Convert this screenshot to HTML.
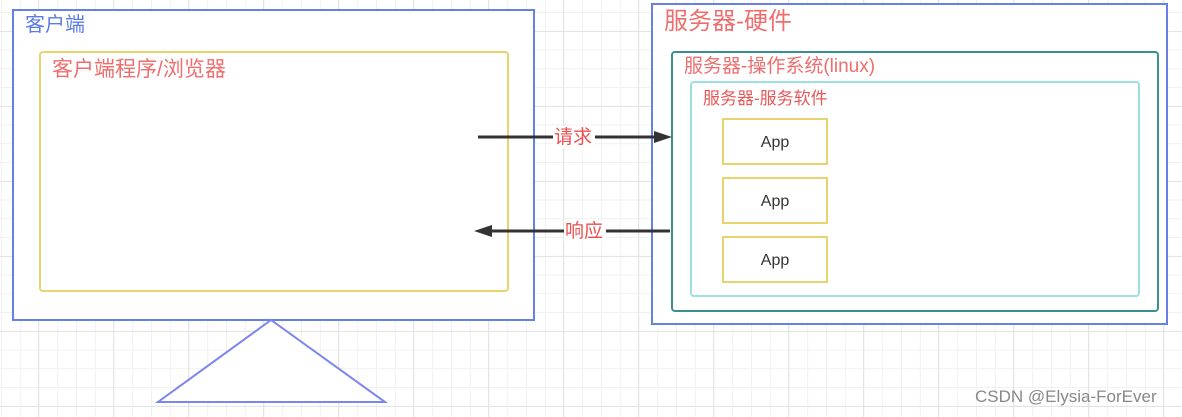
<!DOCTYPE html>
<html><head><meta charset="utf-8"><style>
body{margin:0;width:1182px;height:417px;overflow:hidden;position:relative;font-family:"Liberation Sans","Noto Sans CJK SC",sans-serif;
background-color:#fff;
background-image:linear-gradient(#e4e4e4 1px,transparent 1px),linear-gradient(90deg,#e4e4e4 1px,transparent 1px),linear-gradient(#f1f1f1 1px,transparent 1px),linear-gradient(90deg,#f1f1f1 1px,transparent 1px);
background-size:75px 75px,75px 75px,18.75px 18.75px,18.75px 18.75px;
background-position:0 31px,38px 0,0 12px,1px 0;}
.b{position:absolute;box-sizing:border-box;background:#fff}
.t{position:absolute;white-space:nowrap;line-height:1}
.app{position:absolute;box-sizing:border-box;border:2px solid #e8d36e;background:#fff;width:106px;height:47px;left:722px;text-align:center;line-height:45px;font-size:16px;color:#333}
</style></head><body>
<div class="b" style="left:12px;top:9px;width:523px;height:312px;border:2px solid #6680e8"></div>
<div class="b" style="left:39px;top:51px;width:470px;height:241px;border:2px solid #e8d36e;border-radius:4px"></div>
<div class="t" style="left:25px;top:15px;font-size:20px;color:#5b7be6">客户端</div>
<div class="t" style="left:52px;top:59px;font-size:21px;color:#ee6e6e">客户端程序/浏览器</div>
<svg style="position:absolute;left:0;top:0" width="1182" height="417">
<polygon points="271,320 158,402 385,402" fill="#fff" stroke="#7a86ee" stroke-width="2"/>
</svg>
<div class="b" style="left:651px;top:3px;width:517px;height:322px;border:2px solid #6680e8"></div>
<div class="b" style="left:671px;top:51px;width:488px;height:261px;border:2px solid #3a8f8f;border-radius:4px"></div>
<div class="b" style="left:690px;top:81px;width:450px;height:216px;border:2px solid #9de0e0;border-radius:4px"></div>
<div class="t" style="left:664px;top:10px;font-size:24px;color:#ee6e6e">服务器-硬件</div>
<div class="t" style="left:684px;top:57px;font-size:19px;color:#ee6e6e">服务器-操作系统(linux)</div>
<div class="t" style="left:703px;top:90px;font-size:17px;color:#e85858">服务器-服务软件</div>
<div class="app" style="top:118px">App</div>
<div class="app" style="top:177px">App</div>
<div class="app" style="top:236px">App</div>
<svg style="position:absolute;left:0;top:0" width="1182" height="417">
<line x1="478" y1="137" x2="656" y2="137" stroke="#333" stroke-width="3"/>
<polygon points="672,137 654,131 654,143" fill="#333"/>
<line x1="490" y1="231" x2="670" y2="231" stroke="#333" stroke-width="3"/>
<polygon points="474,231 492,225 492,237" fill="#333"/>
<rect x="553" y="126" width="42" height="22" fill="#fff"/>
<rect x="564" y="220" width="42" height="22" fill="#fff"/>
</svg>
<div class="t" style="left:554px;top:128px;font-size:19px;color:#ee5050">请求</div>
<div class="t" style="left:565px;top:222px;font-size:19px;color:#ee5050">响应</div>
<div class="t" style="left:975px;top:388px;font-size:17px;color:#888">CSDN @Elysia-ForEver</div>
</body></html>
